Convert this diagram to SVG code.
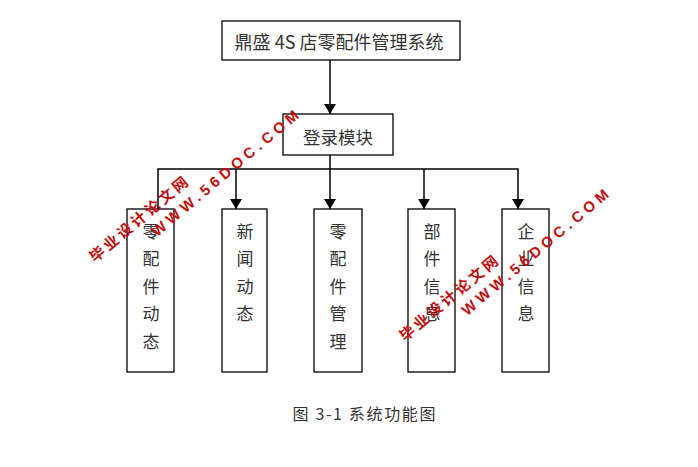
<svg xmlns="http://www.w3.org/2000/svg" width="698" height="467" viewBox="0 0 698 467">
<style>
.box{fill:#fff;stroke:#000;stroke-width:1.3}
.t{font-family:"Noto Sans CJK SC","Liberation Serif",serif;font-size:17px;fill:#333;text-anchor:middle;dominant-baseline:central}
.ln{fill:none;stroke:#000;stroke-width:1.5}
.wm{font-family:"Liberation Sans","Noto Sans CJK SC",sans-serif;font-weight:bold;fill:#c00d0d}
</style>
<defs>
<marker id="ah" viewBox="0 0 10 12" refX="10" refY="6" markerWidth="10" markerHeight="12" markerUnits="userSpaceOnUse" orient="auto">
<path d="M0,0 L10,6 L0,12 Z" fill="#000"/>
</marker>
</defs>
<rect width="698" height="467" fill="#fff"/>
<g id="connectors">
<path class="ln" d="M330,60 V114" marker-end="url(#ah)"/>
<path class="ln" d="M330,155 V209" marker-end="url(#ah)"/>
<path class="ln" d="M158,209 V169 H518 V209" marker-end="url(#ah)"/>
<path class="ln" d="M236,169 V209" marker-end="url(#ah)"/>
<path class="ln" d="M424,169 V209" marker-end="url(#ah)"/>
</g>
<g id="title">
<rect class="box" x="222" y="21" width="238" height="39"/>
<text class="t" x="339" y="41" style="font-size:18px">鼎盛 4S 店零配件管理系统</text>
</g>
<g id="login">
<rect class="box" x="283" y="114" width="110" height="41"/>
<text class="t" x="338" y="136" style="font-size:17.5px">登录模块</text>
</g>
<g id="n1">
<rect class="box" x="127" y="209" width="47" height="163"/>
<text class="t" x="151" y="230">零</text><text class="t" x="151" y="257.5">配</text><text class="t" x="151" y="285">件</text><text class="t" x="151" y="312.5">动</text><text class="t" x="151" y="340">态</text>
</g>
<g id="n2">
<rect class="box" x="222" y="209" width="45" height="163"/>
<text class="t" x="245" y="230">新</text><text class="t" x="245" y="257.5">闻</text><text class="t" x="245" y="285">动</text><text class="t" x="245" y="312.5">态</text>
</g>
<g id="n3">
<rect class="box" x="314" y="209" width="48" height="163"/>
<text class="t" x="338" y="230">零</text><text class="t" x="338" y="257.5">配</text><text class="t" x="338" y="285">件</text><text class="t" x="338" y="312.5">管</text><text class="t" x="338" y="340">理</text>
</g>
<g id="n4">
<rect class="box" x="408" y="209" width="47" height="163"/>
<text class="t" x="432" y="230">部</text><text class="t" x="432" y="257.5">件</text><text class="t" x="432" y="285">信</text><text class="t" x="432" y="312.5">息</text>
</g>
<g id="n5">
<rect class="box" x="502" y="209" width="47" height="163"/>
<text class="t" x="526" y="230">企</text><text class="t" x="526" y="257.5">业</text><text class="t" x="526" y="285">信</text><text class="t" x="526" y="312.5">息</text>
</g>
<text class="t" x="364" y="413" style="font-size:16px" textLength="143" lengthAdjust="spacing">图 3-1  系统功能图</text>
<g id="watermark1" transform="translate(95,263) rotate(-40)">
<text class="wm" x="0" y="0" style="font-size:15px;letter-spacing:3px">毕业设计论文网</text>
<text class="wm" x="64" y="20" style="font-size:15px;letter-spacing:4.3px">WWW.56DOC.COM</text>
</g>
<g id="watermark2" transform="translate(405,342) rotate(-40)">
<text class="wm" x="0" y="0" style="font-size:15px;letter-spacing:3px">毕业设计论文网</text>
<text class="wm" x="64" y="20" style="font-size:15px;letter-spacing:4.3px">WWW.56DOC.COM</text>
</g>
</svg>
